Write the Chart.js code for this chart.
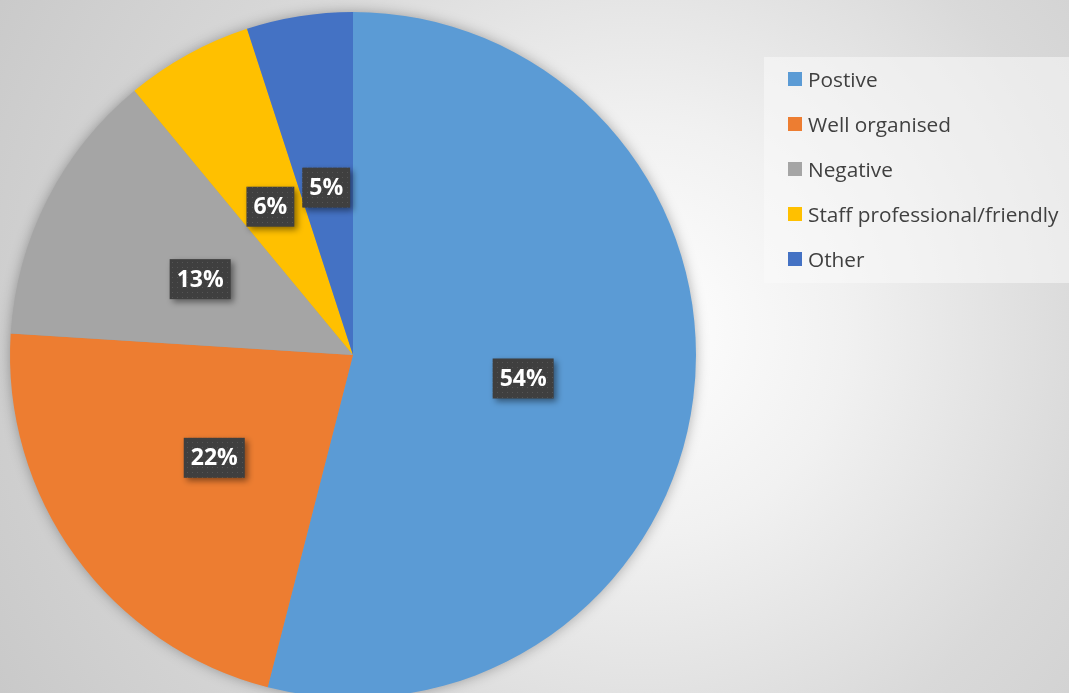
<!DOCTYPE html>
<html>
<head>
<meta charset="utf-8">
<script src="https://cdn.jsdelivr.net/npm/chart.js@4.4.0/dist/chart.umd.min.js"></script>
<style>
  html, body { margin: 0; padding: 0; }
  body {
    width: 1069px; height: 693px; overflow: hidden; position: relative;
    background: radial-gradient(circle at 640px 330px, #ffffff 0%, #f1f1f1 28%, #d9d9d9 62%, #c9c9c9 100%);
    font-family: "Open Sans", "Noto Sans", sans-serif;
  }
  #wrap { position: absolute; left: 0; top: 0; width: 1069px; height: 710px; }
  #legend {
    position: absolute; left: 764px; top: 57px; width: 305px; height: 226px;
    background: rgba(250, 250, 250, 0.55);
    box-sizing: border-box; padding-top: 10px;
  }
  .item { position: absolute; left: 24px; height: 24px; display: flex; align-items: center; color: #404040; font-size: 20.8px; white-space: nowrap; }
  .swatch { width: 14px; height: 14px; margin-right: 6px; }
</style>
</head>
<body>
<div id="wrap"><canvas id="pie"></canvas></div>
<div id="legend"></div>
<script>
const CATEGORIES = ['Postive', 'Well organised', 'Negative', 'Staff professional/friendly', 'Other'];
const VALUES = [54, 22, 13, 6, 5];
const COLORS = ['#5B9BD5', '#ED7D31', '#A5A5A5', '#FFC000', '#4472C4'];

// legend built from the same arrays
const legend = document.getElementById('legend');
CATEGORIES.forEach((name, i) => {
  const item = document.createElement('div');
  item.className = 'item';
  item.style.top = (10 + i * 45) + 'px';
  const sw = document.createElement('span');
  sw.className = 'swatch';
  sw.style.background = COLORS[i];
  const txt = document.createElement('span');
  txt.textContent = name;
  item.append(sw, txt);
  legend.append(item);
});

// dotted fill for the label boxes
function dotPattern(ctx) {
  const c = document.createElement('canvas');
  c.width = 5; c.height = 5;
  const p = c.getContext('2d');
  p.fillStyle = '#3f3f3f';
  p.fillRect(0, 0, 5, 5);
  p.fillStyle = '#555555';
  p.fillRect(2, 2, 1, 1);
  return ctx.createPattern(c, 'repeat');
}

const pieShadow = {
  id: 'pieShadow',
  beforeDatasetsDraw(chart) {
    const arc = chart.getDatasetMeta(0).data[0];
    if (!arc) return;
    const ctx = chart.ctx;
    ctx.save();
    ctx.shadowColor = 'rgba(0,0,0,0.35)';
    ctx.shadowBlur = 14;
    ctx.fillStyle = '#999';
    ctx.beginPath();
    ctx.arc(arc.x, arc.y, arc.outerRadius - 1, 0, Math.PI * 2);
    ctx.fill();
    ctx.restore();
  }
};

const boxLabels = {
  id: 'boxLabels',
  afterDatasetsDraw(chart) {
    const ctx = chart.ctx;
    const pattern = dotPattern(ctx);
    const meta = chart.getDatasetMeta(0);
    ctx.save();
    ctx.font = 'bold 23px "Open Sans", "Noto Sans", sans-serif';
    ctx.textAlign = 'center';
    ctx.textBaseline = 'middle';
    meta.data.forEach((arc, i) => {
      const pos = arc.tooltipPosition();
      const text = VALUES[i] + '%';
      const w = ctx.measureText(text).width + 14;
      const h = 40;
      const cy = pos.y + 2;
      const x = pos.x - w / 2, y = cy - h / 2;
      ctx.save();
      ctx.shadowColor = 'rgba(0,0,0,0.45)';
      ctx.shadowBlur = 6;
      ctx.shadowOffsetX = 3;
      ctx.shadowOffsetY = 3;
      ctx.fillStyle = pattern;
      ctx.fillRect(x, y, w, h);
      ctx.restore();
      ctx.fillStyle = '#ffffff';
      ctx.fillText(text, pos.x, cy + 1);
    });
    ctx.restore();
  }
};

new Chart(document.getElementById('pie'), {
  type: 'pie',
  data: {
    labels: CATEGORIES,
    datasets: [{
      data: VALUES,
      backgroundColor: COLORS,
      borderWidth: 0,
    }]
  },
  options: {
    responsive: true,
    maintainAspectRatio: false,
    animation: false,
    layout: { padding: { left: 10, right: 373, top: 12, bottom: 12 } },
    plugins: {
      legend: { display: false },
      tooltip: { enabled: false }
    }
  },
  plugins: [pieShadow, boxLabels]
});
</script>
</body>
</html>
